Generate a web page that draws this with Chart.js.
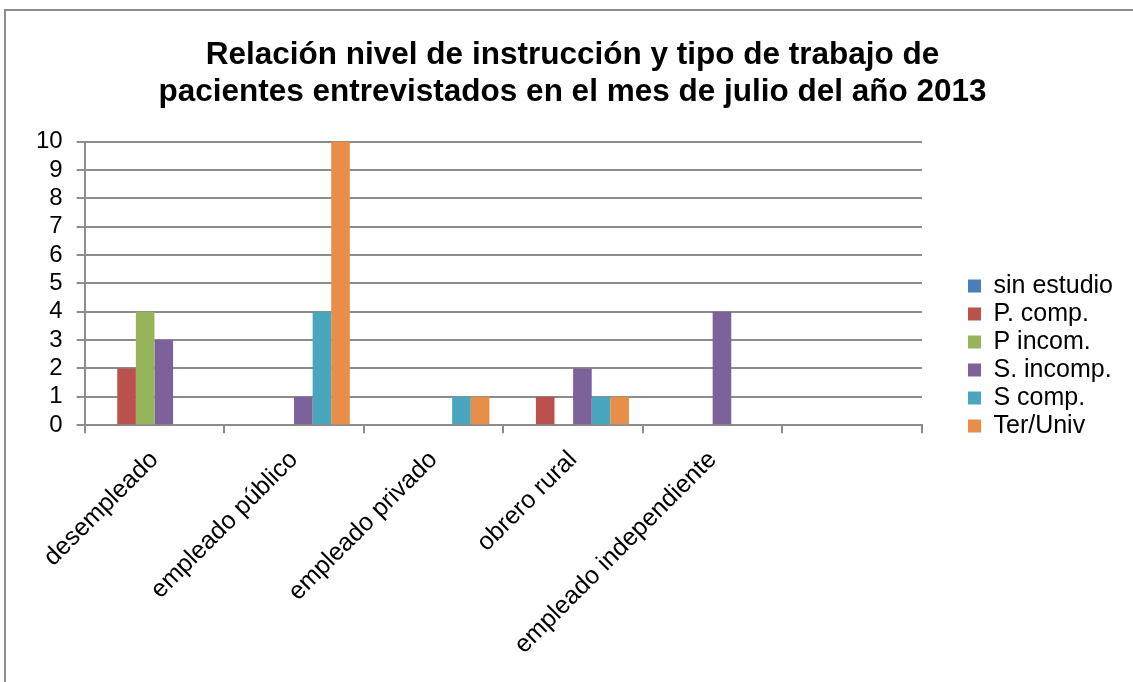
<!DOCTYPE html>
<html>
<head>
<meta charset="utf-8">
<script src="https://cdn.jsdelivr.net/npm/chart.js@4/dist/chart.umd.min.js"></script>
<style>
body { margin: 0; background: #ffffff; }
#frame {
    position: absolute;
    left: 4px;
    top: 9px;
    width: 1200px;
    height: 800px;
    border: 2px solid #8c8c8c;
}
#wrap {
    position: absolute;
    left: 0;
    top: 0;
    width: 1133px;
    height: 682px;
}
</style>
</head>
<body>
<div id="frame"></div>
<div id="wrap"><canvas id="barChart"></canvas></div>
<script>
// categorias (la ultima va vacia, como en la hoja original)
var categorias = ["desempleado", "empleado público", "empleado privado", "obrero rural", "empleado independiente", ""];

var sinEstudio = [0, 0, 0, 0, 0, 0];
var pComp      = [2, 0, 0, 1, 0, 0];
var pIncom     = [4, 0, 0, 0, 0, 0];
var sIncomp    = [3, 1, 0, 2, 4, 0];
var sComp      = [0, 4, 1, 1, 0, 0];
var terUniv    = [0, 10, 1, 1, 0, 0];

var nombres = ["sin estudio", "P. comp.", "P incom.", "S. incomp.", "S comp.", "Ter/Univ"];
var colores = ["#4A7EBB", "#BA514D", "#98B45A", "#7D619B", "#4AA5BF", "#E98E48"];
var series = [sinEstudio, pComp, pIncom, sIncomp, sComp, terUniv];

var yTicks = [0, 1, 2, 3, 4, 5, 6, 7, 8, 9, 10];

var gris = "#8c8c8c";
var fuente = "'Liberation Sans', Arial, sans-serif";

var datasets = [];
for (var i = 0; i < series.length; i++) {
    datasets.push({
        label: nombres[i],
        data: series[i],
        backgroundColor: colores[i],
        borderWidth: 0,
        categoryPercentage: 0.8,
        barPercentage: 1.0
    });
}

var ctx = document.getElementById("barChart").getContext("2d");
var chart = new Chart(ctx, {
    type: "bar",
    data: { labels: categorias, datasets: datasets },
    options: {
        responsive: true,
        maintainAspectRatio: false,
        animation: false,
        layout: { padding: { left: 22, right: 10, top: 0, bottom: 10 } },
        plugins: {
            title: {
                display: true,
                text: ["Relación nivel de instrucción y tipo de trabajo de",
                       "pacientes entrevistados en el mes de julio del año 2013"],
                color: "#000000",
                font: { family: fuente, size: 31.5, weight: "bold", lineHeight: 1.2 },
                padding: { top: 36, bottom: 30 }
            },
            legend: {
                display: true,
                position: "right",
                align: "center",
                title: {
                    display: true,
                    text: "",
                    font: { size: 10, lineHeight: 1 },
                    padding: { top: 20, bottom: 10 }
                },
                labels: {
                    color: "#000000",
                    font: { family: fuente, size: 25 },
                    boxWidth: 13,
                    boxHeight: 13,
                    padding: 3
                }
            },
            tooltip: { enabled: false }
        },
        scales: {
            x: {
                grid: {
                    display: true,
                    drawOnChartArea: false,
                    drawTicks: true,
                    tickLength: 8,
                    color: gris,
                    lineWidth: 2,
                    offset: true
                },
                border: { display: true, color: gris, width: 2 },
                ticks: {
                    color: "#000000",
                    font: { family: fuente, size: 25 },
                    minRotation: 45,
                    maxRotation: 45,
                    autoSkip: false,
                    padding: 12
                }
            },
            y: {
                min: 0,
                max: 10,
                afterBuildTicks: function (scale) {
                    scale.ticks = yTicks.map(function (v) { return { value: v }; });
                },
                grid: {
                    color: gris,
                    lineWidth: 2,
                    tickLength: 8
                },
                border: { display: true, color: gris, width: 2 },
                ticks: {
                    color: "#000000",
                    font: { family: fuente, size: 24, lineHeight: 1 },
                    autoSkip: false,
                    padding: 14
                }
            },
            hueco: {
                position: "right",
                display: true,
                grid: { display: false },
                border: { display: false },
                ticks: { display: false },
                afterFit: function (scale) { scale.width = 43; }
            }
        }
    }
});
</script>
</body>
</html>
